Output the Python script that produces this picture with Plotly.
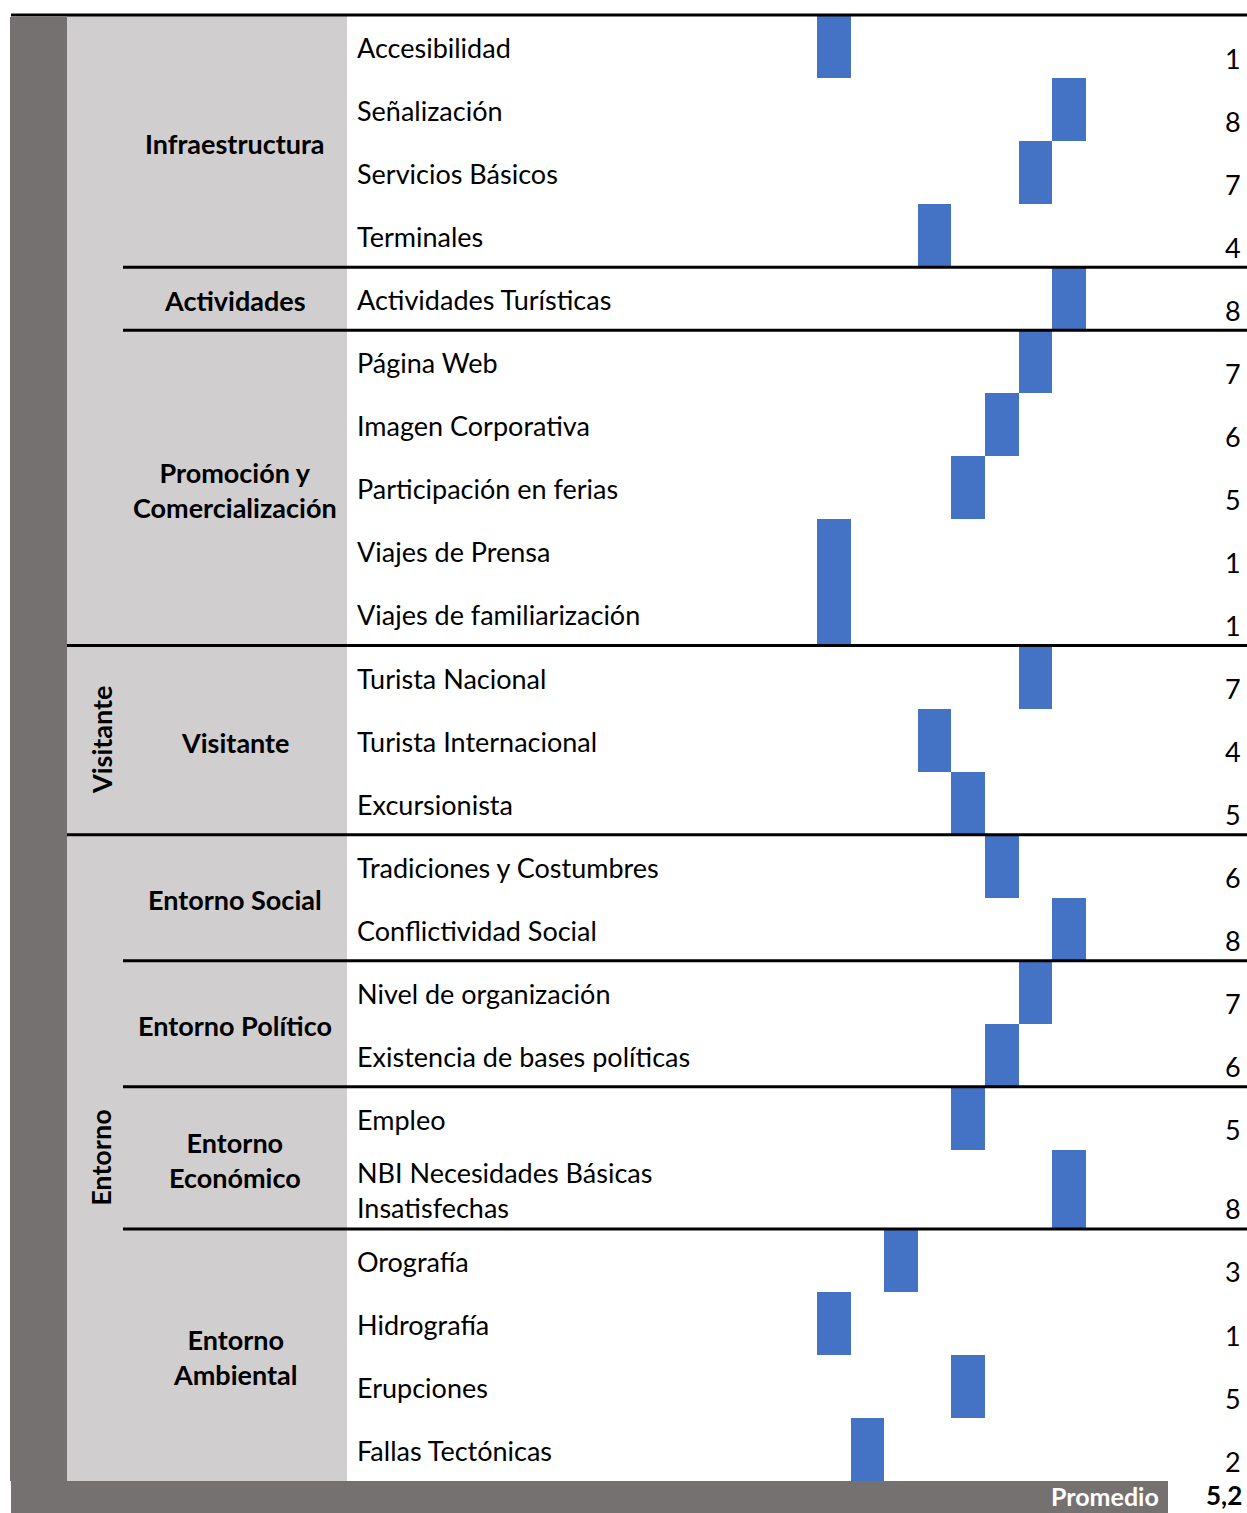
import plotly.graph_objects as go

# ---- data -------------------------------------------------------------
indicadores = [
    "Accesibilidad", "Señalización", "Servicios Básicos", "Terminales",
    "Actividades Turísticas",
    "Página Web", "Imagen Corporativa", "Participación en ferias",
    "Viajes de Prensa", "Viajes de familiarización",
    "Turista Nacional", "Turista Internacional", "Excursionista",
    "Tradiciones y Costumbres", "Conflictividad Social",
    "Nivel de organización", "Existencia de bases políticas",
    "Empleo", "NBI Necesidades Básicas<br>Insatisfechas",
    "Orografía", "Hidrografía", "Erupciones", "Fallas Tectónicas",
]
valores = [1, 8, 7, 4, 8, 7, 6, 5, 1, 1, 7, 4, 5, 6, 8, 7, 6, 5, 8, 3, 1, 5, 2]

factores = [
    "Infraestructura", "Actividades", "Promoción y<br>Comercialización",
    "Visitante", "Entorno Social", "Entorno Político",
    "Entorno<br>Económico", "Entorno<br>Ambiental",
]
indicadores_por_factor = [4, 1, 5, 3, 2, 2, 2, 4]

dimensiones = ["", "Visitante", "Entorno"]
factores_por_dimension = [3, 1, 4]

promedio = 5.2

# ---- layout geometry (pixels) -----------------------------------------
W, H = 1247, 1513
TOP = 15
ROW_H = 63.05
ROW_H_TALL = 79          # rows whose label wraps to two lines
X0_PX, UNIT_PX = 817, 33.6   # x-axis: value 0 at 817 px, 33.6 px per unit

COL_DARK = (10, 67)
COL_DIM = (67, 123)
COL_FACT = (123, 347)
LABEL_X = 355
VALUE_RIGHT = 1243

DARK = "#767171"
LIGHT = "#D0CECE"
BLUE = "#4472C4"
FONT = "Lato, 'Open Sans', sans-serif"
FS = 27


def px(x):
    return x / W


heights = [ROW_H_TALL if "<br>" in s else ROW_H for s in indicadores]
tops = []
y = TOP
for h in heights:
    tops.append(y)
    y += h
bottom = y
centers = [t + h / 2 for t, h in zip(tops, heights)]

fig = go.Figure()

# one-unit segment ending at each indicator's score
fig.add_trace(go.Bar(
    orientation="h",
    y=centers,
    x=[1] * len(valores),
    base=[v - 1 for v in valores],
    width=heights,
    marker=dict(color=BLUE, line_width=0),
    hoverinfo="skip",
    showlegend=False,
))

shapes = []
annotations = []

# background columns
shapes.append(dict(type="rect", xref="paper", yref="y", layer="below",
                   x0=px(COL_DARK[0]), x1=px(COL_DARK[1]), y0=TOP + 2, y1=bottom,
                   fillcolor=DARK, line_width=0))
shapes.append(dict(type="rect", xref="paper", yref="y", layer="below",
                   x0=px(COL_DIM[0]), x1=px(COL_FACT[1]), y0=TOP, y1=bottom,
                   fillcolor=LIGHT, line_width=0))
# average band
shapes.append(dict(type="rect", xref="paper", yref="y", layer="below",
                   x0=px(11), x1=px(1168), y0=bottom, y1=H,
                   fillcolor=DARK, line_width=0))


def hline(yv, xstart):
    shapes.append(dict(type="line", xref="paper", yref="y", layer="above",
                       x0=px(xstart), x1=1, y0=yv, y1=yv,
                       line=dict(color="black", width=3)))


hline(TOP, 11)

# indicator labels and values
for lab, v, t, h, c in zip(indicadores, valores, tops, heights, centers):
    annotations.append(dict(xref="paper", yref="y", x=px(LABEL_X), y=c + 1,
                            xanchor="left", yanchor="middle", showarrow=False,
                            text=lab, align="left",
                            font=dict(family=FONT, size=FS, color="black")))
    annotations.append(dict(xref="paper", yref="y", x=px(VALUE_RIGHT), y=t + h - 20,
                            xanchor="right", yanchor="middle", showarrow=False,
                            text=str(v),
                            font=dict(family=FONT, size=FS, color="black")))

# factor labels
i = 0
fact_bounds = []
for name, n in zip(factores, indicadores_por_factor):
    y0 = tops[i]
    y1 = tops[i + n - 1] + heights[i + n - 1]
    fact_bounds.append((y0, y1))
    annotations.append(dict(xref="paper", yref="y",
                            x=px((COL_FACT[0] + COL_FACT[1]) / 2), y=(y0 + y1) / 2 + 2,
                            xanchor="center", yanchor="middle", showarrow=False,
                            text="<b>" + name + "</b>", align="center",
                            font=dict(family=FONT, size=FS, color="black")))
    i += n

# dimension labels and separators
j = 0
for name, n in zip(dimensiones, factores_por_dimension):
    y0 = fact_bounds[j][0]
    y1 = fact_bounds[j + n - 1][1]
    for k in range(j, j + n - 1):
        hline(fact_bounds[k][1], COL_FACT[0])
    if j + n < len(fact_bounds):
        hline(y1, COL_DIM[0])
    if name:
        annotations.append(dict(xref="paper", yref="y", x=px(101), y=(y0 + y1) / 2,
                                xanchor="center", yanchor="middle", showarrow=False,
                                text="<b>" + name + "</b>", textangle=-90,
                                font=dict(family=FONT, size=FS, color="black")))
    j += n

# average row
annotations.append(dict(xref="paper", yref="y", x=px(1160), y=1496,
                        xanchor="right", yanchor="middle", showarrow=False,
                        borderpad=0,
                        text="<b>Promedio</b>",
                        font=dict(family=FONT, size=25, color="white")))
annotations.append(dict(xref="paper", yref="y", x=px(VALUE_RIGHT), y=1495,
                        xanchor="right", yanchor="middle", showarrow=False,
                        borderpad=0,
                        text="<b>" + f"{promedio:.1f}".replace(".", ",") + "</b>",
                        font=dict(family=FONT, size=26, color="black")))

fig.update_layout(
    width=W, height=H,
    margin=dict(l=0, r=0, t=0, b=0),
    paper_bgcolor="white", plot_bgcolor="white",
    xaxis=dict(range=[-X0_PX / UNIT_PX, (W - X0_PX) / UNIT_PX], visible=False,
               fixedrange=True),
    yaxis=dict(range=[H, 0], visible=False, fixedrange=True),
    shapes=shapes, annotations=annotations,
    bargap=0,
)

fig.write_html("out.html")
